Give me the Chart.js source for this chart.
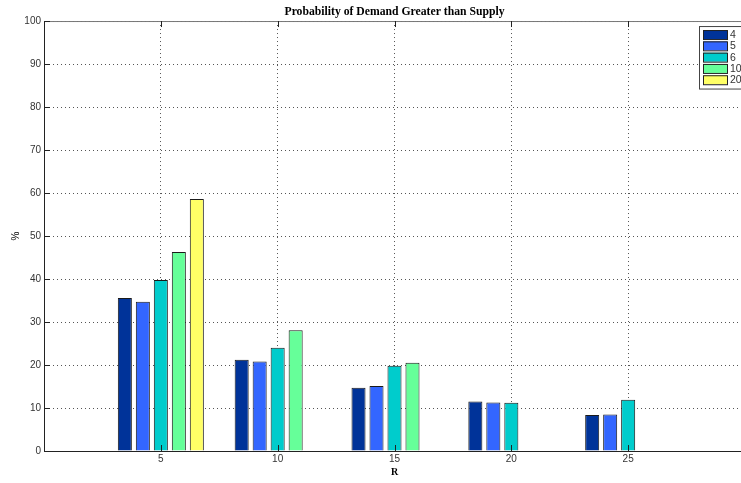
<!DOCTYPE html>
<html>
<head>
<meta charset="utf-8">
<script src="https://cdn.jsdelivr.net/npm/chart.js@4"></script>
<style>
  html, body { margin: 0; padding: 0; background: #fff; overflow: hidden; }
  #wrap { width: 747px; height: 483px; }
</style>
</head>
<body>
<div id="wrap"><canvas id="demand"></canvas></div>
<script>
// R values on the x axis (0 and 30 are only the axis ends)
const rValues = ['0', '5', '10', '15', '20', '25', '30'];
const seriesNames = ['4', '5', '6', '10', '20'];
const seriesColors = ['#003399', '#3366ff', '#00cccc', '#66ff99', '#ffff66'];

// % per R = 5, 10, 15, 20, 25
const p4  = [35.6, 21.2, 14.7, 11.5, 8.4];
const p5  = [34.7, 20.8, 15.1, 11.3, 8.5];
const p6  = [39.8, 24.0, 19.8, 11.2, 11.9];
const p10 = [46.3, 28.1, 20.5, null, null];
const p20 = [58.6, null, null, null, null];

const yTicks = [0, 10, 20, 30, 40, 50, 60, 70, 80, 90, 100];

const pad = arr => [null, ...arr, null];

const datasets = [p4, p5, p6, p10, p20].map((d, i) => ({
    label: seriesNames[i],
    data: pad(d),
    backgroundColor: seriesColors[i],
    borderColor: '#1a1a1a',
    borderWidth: 1,
    categoryPercentage: 0.77,
    barPercentage: 0.78
}));

// matlab style box: solid top line, inward ticks, legend in the corner
const boxPlugin = {
    id: 'box',
    afterDraw(chart) {
        const c = chart.ctx;
        const a = chart.chartArea;
        const xs = chart.scales.x, ys = chart.scales.y;
        c.save();
        c.strokeStyle = '#777';
        c.lineWidth = 1;
        c.beginPath();
        c.moveTo(a.left, a.top + 0.5);
        c.lineTo(a.right, a.top + 0.5);
        c.stroke();
        c.strokeStyle = '#222';
        c.beginPath();
        yTicks.forEach(v => {
            const y = Math.round(ys.getPixelForValue(v)) + 0.5;
            c.moveTo(a.left, y);
            c.lineTo(a.left + 6, y);
        });
        for (let i = 1; i < rValues.length - 1; i++) {
            const x = Math.round(xs.getPixelForValue(i)) + 0.5;
            c.moveTo(x, a.bottom);
            c.lineTo(x, a.bottom - 6);
            c.moveTo(x, a.top);
            c.lineTo(x, a.top + 6);
        }
        c.stroke();

        // legend
        const lx = 699, ly = a.top + 5;
        const rowH = 11.3;
        c.fillStyle = '#fff';
        c.fillRect(lx, ly, 60, rowH * seriesNames.length + 6);
        c.strokeStyle = '#444';
        c.strokeRect(lx + 0.5, ly + 0.5, 60, rowH * seriesNames.length + 6);
        c.font = '10.5px "Liberation Sans", Arial, sans-serif';
        c.textBaseline = 'middle';
        seriesNames.forEach((name, i) => {
            const y = ly + 4 + i * rowH;
            c.fillStyle = seriesColors[i];
            c.fillRect(lx + 4, y, 24, 9);
            c.strokeStyle = '#222';
            c.strokeRect(lx + 4.5, y + 0.5, 24, 9);
            c.fillStyle = '#333';
            c.fillText(name, lx + 31, y + 5);
        });
        c.restore();
    }
};

new Chart(document.getElementById('demand'), {
    type: 'bar',
    data: {
        labels: rValues,
        datasets: datasets
    },
    plugins: [boxPlugin],
    options: {
        responsive: true,
        maintainAspectRatio: false,
        animation: false,
        plugins: {
            legend: { display: false },
            tooltip: { enabled: false },
            title: {
                display: true,
                fullSize: false,
                text: 'Probability of Demand Greater than Supply',
                color: '#000',
                font: { family: '"Liberation Serif", "Times New Roman", serif', size: 11.7, weight: 'bold' },
                padding: { top: 5, bottom: 2 }
            }
        },
        scales: {
            x: {
                type: 'category',
                offset: false,
                grid: {
                    offset: false,
                    color: '#555',
                    drawTicks: false
                },
                border: { display: true, color: '#222', dash: [1, 3] },
                ticks: {
                    color: '#333',
                    padding: 2,
                    maxRotation: 0,
                    autoSkip: false,
                    font: { family: '"Liberation Sans", Arial, sans-serif', size: 10 },
                    callback: (v, i) => (i === 0 || i === rValues.length - 1) ? '' : rValues[i]
                },
                title: {
                    display: true,
                    text: 'R',
                    color: '#000',
                    padding: { top: 0, bottom: 5 },
                    font: { family: '"Liberation Serif", "Times New Roman", serif', size: 10, weight: 'bold' }
                },
                afterFit: s => { s.height = 32; }
            },
            y: {
                min: 0,
                max: 100,
                grid: {
                    color: '#555',
                    drawTicks: false
                },
                border: { display: true, color: '#222', dash: [1, 3] },
                ticks: {
                    stepSize: 10,
                    color: '#333',
                    padding: 3,
                    font: { family: '"Liberation Sans", Arial, sans-serif', size: 10 }
                },
                title: {
                    display: true,
                    text: '%',
                    color: '#000',
                    padding: { top: 10, bottom: 0 },
                    font: { family: '"Liberation Sans", Arial, sans-serif', size: 10 }
                },
                afterFit: s => { s.width = 44; }
            }
        }
    }
});
</script>
</body>
</html>
